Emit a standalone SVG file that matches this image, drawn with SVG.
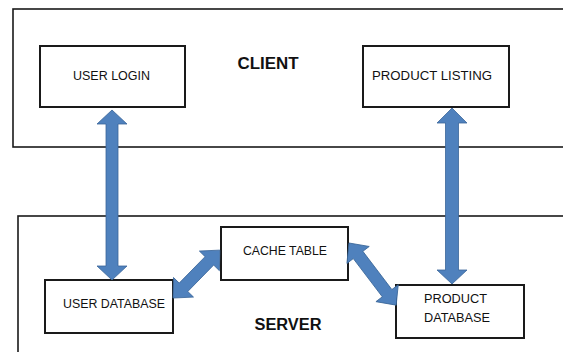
<svg xmlns="http://www.w3.org/2000/svg" width="563" height="352" viewBox="0 0 563 352">
<style>
.frame{fill:#fff;stroke:#1a1a1a;stroke-width:1.6}
.box{fill:#fff;stroke:#1a1a1a;stroke-width:2}
.lbl{font-family:"Liberation Sans",Arial,sans-serif;font-size:12.5px;fill:#111;text-anchor:middle}
.title{font-family:"Liberation Sans",Arial,sans-serif;font-size:16px;font-weight:bold;fill:#111;text-anchor:middle}
.arr{fill:#4F81BD;stroke:#3A6699;stroke-width:0.8}
</style>
<rect width="563" height="352" fill="#fff"/>
<g id="client">
<rect class="frame" x="13" y="9" width="570" height="138"/>
<text class="title" x="268" y="69" textLength="61" lengthAdjust="spacingAndGlyphs">CLIENT</text>
</g>
<g id="server">
<rect class="frame" x="18" y="216" width="570" height="160"/>
<text class="title" x="288" y="330" textLength="67" lengthAdjust="spacingAndGlyphs">SERVER</text>
</g>
<g id="user-login">
<rect class="box" x="40" y="46" width="145" height="61"/>
<text class="lbl" x="111.5" y="80" textLength="77" lengthAdjust="spacingAndGlyphs">USER LOGIN</text>
</g>
<g id="product-listing">
<rect class="box" x="363" y="46" width="146" height="61"/>
<text class="lbl" x="432" y="80" textLength="120" lengthAdjust="spacingAndGlyphs">PRODUCT LISTING</text>
</g>
<g id="user-database">
<rect class="box" x="45" y="280" width="128" height="53"/>
<text class="lbl" x="114" y="308" textLength="102" lengthAdjust="spacingAndGlyphs">USER DATABASE</text>
</g>
<g id="cache-table">
<rect class="box" x="221" y="227" width="127" height="53"/>
<text class="lbl" x="285" y="255" textLength="84" lengthAdjust="spacingAndGlyphs">CACHE TABLE</text>
</g>
<g id="product-database">
<rect class="box" x="396" y="285" width="128" height="53"/>
<text class="lbl" x="455.5" y="303" textLength="63" lengthAdjust="spacingAndGlyphs">PRODUCT</text>
<text class="lbl" x="457" y="322" textLength="66" lengthAdjust="spacingAndGlyphs">DATABASE</text>
</g>
<g id="connectors">
<polygon class="arr" points="112,110 97,124 106,124 106,266 97,266 112,280 127,266 118,266 118,124 127,124"/>
<polygon class="arr" points="452,108 437,123 445.5,123 445.5,270 437,270 452,284 467,270 458.5,270 458.5,123 467,123"/>
<polygon class="arr" transform="translate(173,298) rotate(-45.6)" points="0,0 15,-14 15,-6 52,-6 52,-14 67,0 52,14 52,6 15,6 15,14"/>
<polygon class="arr" transform="translate(349,243) rotate(52.8)" points="0,0 15,-14 15,-6 63,-6 63,-14 78,0 63,14 63,6 15,6 15,14"/>
</g>
</svg>
